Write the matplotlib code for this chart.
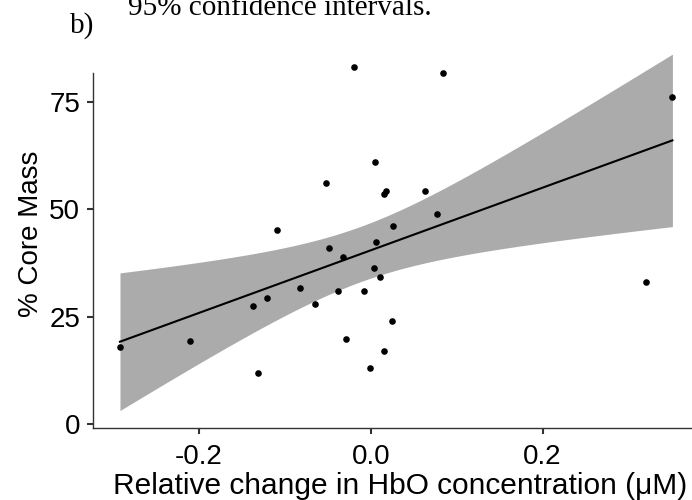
import numpy as np
import matplotlib.pyplot as plt

# Data (relative HbO change vs % core mass)
hbo_change = [-0.2917, -0.2106, -0.1369, -0.1308, -0.1203, -0.1094, -0.0823,
              -0.0652, -0.0516, -0.0485, -0.0380, -0.0319, -0.0291, -0.0191,
              -0.0074, -0.0008, 0.0038, 0.0054, 0.0058, 0.0112, 0.0155,
              0.0155, 0.0178, 0.0252, 0.0256, 0.0628, 0.0775, 0.0838,
              0.3200, 0.3510]
core_mass = [18.0, 19.4, 27.5, 11.8, 29.4, 45.3, 31.8, 28.0, 56.1, 41.1,
             30.9, 38.9, 19.8, 83.2, 30.9, 13.1, 36.4, 61.0, 42.5, 34.3,
             16.9, 53.7, 54.2, 23.9, 46.2, 54.3, 48.9, 81.8, 33.2, 76.1]
x_ticks = [-0.2, 0.0, 0.2]
y_ticks = [0, 25, 50, 75]

x = np.array(hbo_change)
y = np.array(core_mass)

# linear fit with 95% confidence band (like geom_smooth(method="lm"))
n = len(x)
slope, intercept = np.polyfit(x, y, 1)
resid = y - (slope * x + intercept)
s = np.sqrt(np.sum(resid**2) / (n - 2))
sxx = np.sum((x - x.mean())**2)
t_crit = 2.048  # t(0.975, df=28)
xs = np.linspace(x.min(), x.max(), 100)
ys = slope * xs + intercept
half = t_crit * s * np.sqrt(1 / n + (xs - x.mean())**2 / sxx)

plt.rcParams['font.family'] = ['Liberation Sans', 'DejaVu Sans']

fig = plt.figure(figsize=(6.92, 5.0), dpi=100)
ax = fig.add_axes([0.134, 0.1434, 0.866, 0.7766])

ax.fill_between(xs, ys - half, ys + half, color='#ababab', lw=0, clip_on=False)
ax.plot(xs, ys, color='black', lw=1.5, clip_on=False)
ax.scatter(x, y, s=14, color='black', zorder=3, clip_on=False)

ax.set_xlim(-0.3234, 0.3738)
ax.set_ylim(-1.0, 89.5)
ax.set_xticks(x_ticks)
ax.set_xticklabels(['-0.2', '0.0', '0.2'])
ax.set_yticks(y_ticks)

ax.spines['top'].set_visible(False)
ax.spines['right'].set_visible(False)
ax.spines['left'].set_bounds(-1.0, 81.8)
for side in ['left', 'bottom']:
    ax.spines[side].set_color('#333333')
    ax.spines[side].set_linewidth(1.0)

ax.tick_params(axis='both', labelsize=20, length=4, width=1.5, color='#333333',
               labelcolor='black')
ax.tick_params(axis='x', pad=7)
ax.tick_params(axis='y', pad=5)

ax.set_xlabel('Relative change in HbO concentration (μM)', fontsize=21.5)
ax.xaxis.set_label_coords(0.513, -0.112)
ax.set_ylabel('% Core Mass', fontsize=20, labelpad=4)

fig.text(0.101, 0.934, 'b)', fontsize=21, family='Liberation Serif', va='baseline')
fig.text(0.185, 0.97, '95% confidence intervals.', fontsize=21,
         family='Liberation Serif', va='baseline')

fig.savefig('out.png', dpi=100)
